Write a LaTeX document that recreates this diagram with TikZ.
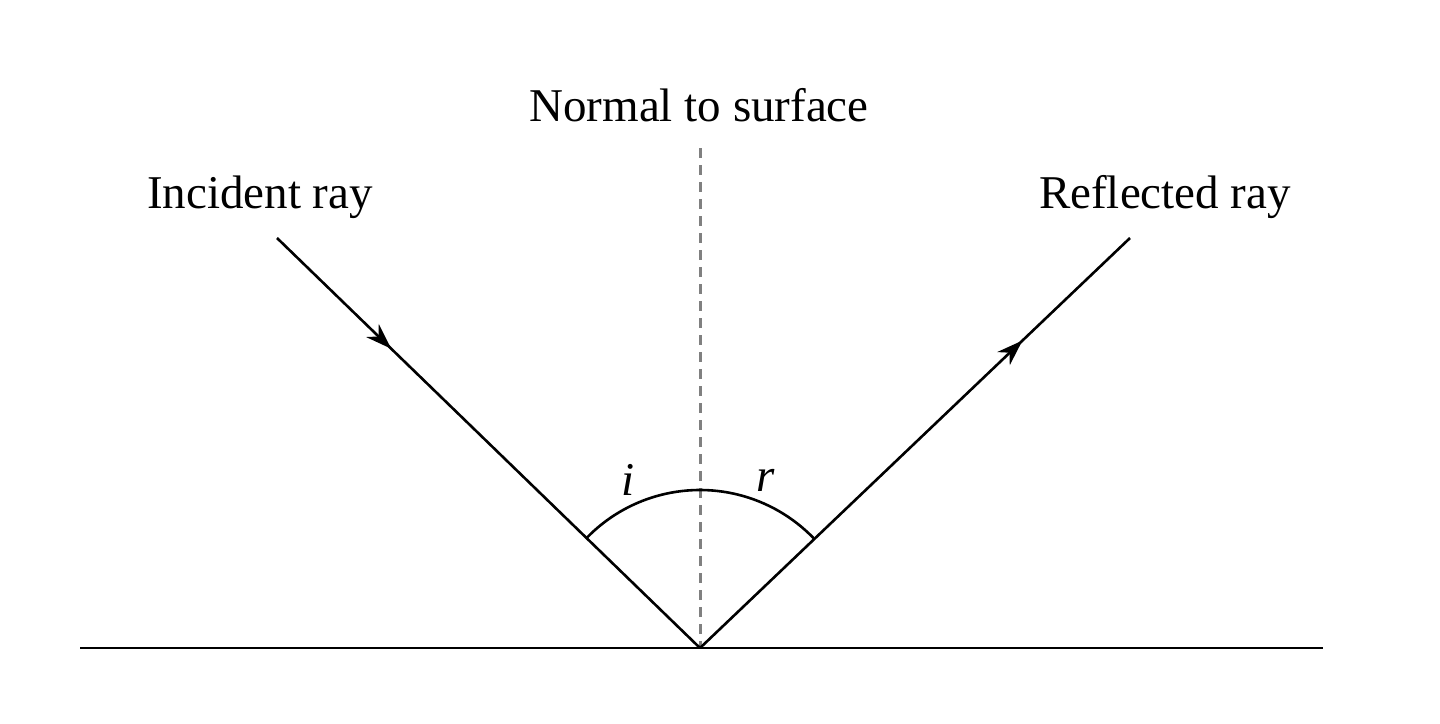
\documentclass[tikz,border=0pt]{standalone}
\usepackage{fontspec}
\setmainfont{Liberation Serif}
\usetikzlibrary{arrows.meta,decorations.markings}
\begin{document}
\begin{tikzpicture}[x=1pt,y=-1pt,
  ray/.style={line width=2.6pt},
  lbl/.style={font=\fontsize{47}{52}\selectfont, inner sep=0pt},
  midarrow/.style={decoration={markings,mark=at position #1 with {\arrow{Stealth[length=26pt,width=18pt]}}},postaction={decorate}}]
\useasboundingbox (0,0) rectangle (1440,723);
\coordinate (O) at (700,648);
\coordinate (L) at (80,648);
\coordinate (R) at (1323,648);
\coordinate (I) at (277,238);
\coordinate (F) at (1130,238);
\coordinate (N) at (700,148);
\draw[ray] (L) -- (R);
\draw[line width=3pt, gray, dash pattern=on 10pt off 7pt] (N) -- (O);
\draw[ray, midarrow=0.27] (I) -- (O);
\draw[ray, midarrow=0.75] (O) -- (F);
\draw[ray] (O) ++(-136:158) arc[start angle=-136, end angle=-44, radius=158];
\node[lbl] (ni) at (628,480) {\itshape i};
\node[lbl] (nr) at (766,480) {\itshape r};
\node[lbl] (tinc) at (260,197) {Incident ray};
\node[lbl] (tref) at (1165,197) {Reflected ray};
\node[lbl] (tnorm) at (699,105) {Normal to surface};
\end{tikzpicture}
\end{document}
